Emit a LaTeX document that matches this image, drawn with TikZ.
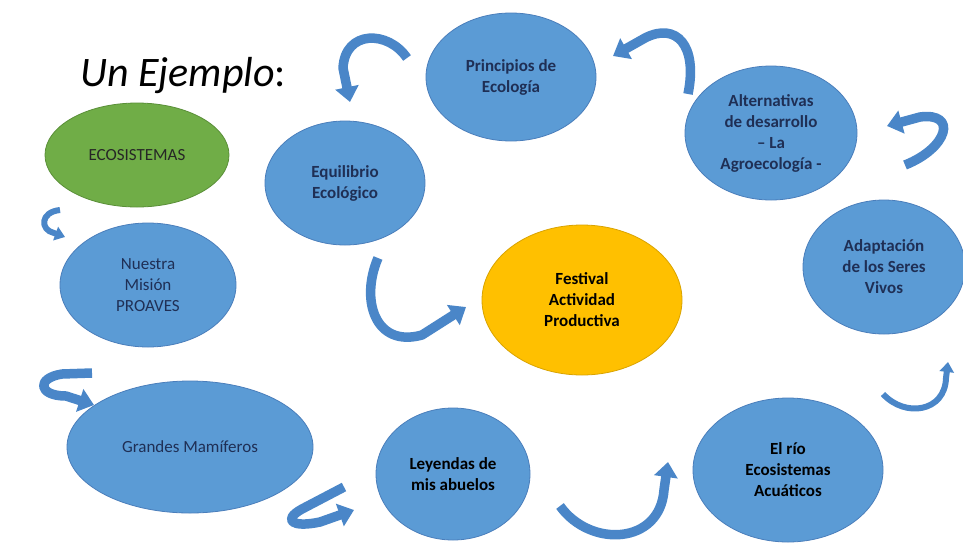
\documentclass[tikz,border=0pt]{standalone}
\usepackage{fontspec}
\setmainfont{Carlito}
\usetikzlibrary{shapes.geometric,arrows.meta}
\definecolor{ellblue}{HTML}{5B9BD5}
\definecolor{elledge}{HTML}{4A7EBB}
\definecolor{arrblue}{HTML}{4A86C8}
\definecolor{txtnavy}{HTML}{1F2F55}
\definecolor{ecogreen}{HTML}{70AD47}
\definecolor{ecoedge}{HTML}{5A8F38}
\definecolor{festyel}{HTML}{FFC000}
\definecolor{festedge}{HTML}{D9A300}
\begin{document}
\begin{tikzpicture}[x=1pt,y=-1pt,
  bub/.style={ellipse, fill=ellblue, draw=elledge, line width=0.8pt, inner sep=0pt,
    align=center, font=\fontsize{17}{21}\selectfont, text=txtnavy},
  bubb/.style={bub, font=\fontsize{17}{21}\selectfont\bfseries},
  flow/.style={draw=arrblue, line width=9.5pt, line join=round,
    -{Triangle[width=23pt,length=15pt]}},
  thinflow/.style={draw=arrblue, line width=6pt, line join=round,
    -{Triangle[width=14pt,length=10pt]}}]
\useasboundingbox (0,0) rectangle (963,552);
\fill[white] (0,0) rectangle (963,552);

% title
\node[anchor=west, inner sep=0pt] (title) at (80,76)
  {\fontsize{42}{48}\selectfont\itshape Un Ejemplo\upshape:};

% ellipses
\node[bub, fill=ecogreen, draw=ecoedge, text=black!85, minimum width=184pt, minimum height=104pt]
  (eco) at (137,155) {ECOSISTEMAS};
\node[bub, minimum width=176pt, minimum height=124pt] (mision) at (148,285)
  {Nuestra\\Misión\\PROAVES};
\node[bub, minimum width=246pt, minimum height=132pt] (mamif) at (190,447)
  {Grandes Mamíferos};
\node[bubb, minimum width=160pt, minimum height=124pt] (equil) at (345,183)
  {Equilibrio\\Ecológico};
\node[bubb, minimum width=170pt, minimum height=128pt] (princ) at (511,77)
  {Principios de\\Ecología};
\node[bubb, minimum width=172pt, minimum height=134pt] (alter) at (771,133)
  {Alternativas\\de desarrollo\\– La\\Agroecología -};
\node[bubb, minimum width=162pt, minimum height=134pt] (adapt) at (884,267)
  {Adaptación\\de los Seres\\Vivos};
\node[bubb, fill=festyel, draw=festedge, text=black, minimum width=200pt, minimum height=150pt]
  (fest) at (582,300) {Festival\\Actividad\\Productiva};
\node[bubb, text=black, minimum width=154pt, minimum height=132pt] (leyen) at (453,474)
  {Leyendas de\\mis abuelos};
\node[bubb, text=black, minimum width=190pt, minimum height=144pt] (rio) at (788,470)
  {El río\\Ecosistemas\\Acuáticos};

% curved block arrows (free-standing)
\coordinate (a1s) at (407,58);  \coordinate (a1e) at (350,102);
\draw[flow] (a1s) .. controls (388,30) and (345,30) .. (343,68) -- (a1e);

\coordinate (a2s) at (688,94);  \coordinate (a2e) at (613,56);
\draw[flow] (a2s) .. controls (698,45) and (676,22) .. (645,38) -- (a2e);

\coordinate (a3s) at (905,165); \coordinate (a3e) at (887,126);
\draw[flow] (a3s) .. controls (948,148) and (958,112) .. (920,117) -- (a3e);

\coordinate (a4s) at (883,394); \coordinate (a4e) at (948,362);
\draw[thinflow] (a4s) .. controls (905,418) and (945,412) .. (946,378) -- (a4e);

\coordinate (a5s) at (560,506); \coordinate (a5e) at (668,462);
\draw[flow] (a5s) .. controls (590,548) and (660,545) .. (664,490) -- (a5e);

\coordinate (a6s) at (344,487); \coordinate (a6e) at (354,510);
\draw[flow] (a6s) -- (302,509) .. controls (282,520) and (292,528) .. (320,522) -- (a6e);

\coordinate (a7s) at (92,373); \coordinate (a7e) at (94,405);
\draw[flow] (a7s) -- (62,374) .. controls (36,378) and (38,396) .. (66,396) -- (a7e);

\coordinate (a8s) at (60,210); \coordinate (a8e) at (65,237);
\draw[thinflow] (a8s) .. controls (40,212) and (40,230) .. (54,233) -- (a8e);

\coordinate (a9s) at (378,258); \coordinate (a9e) at (466,307);
\draw[flow] (a9s) .. controls (360,300) and (375,348) .. (422,335) -- (a9e);
\end{tikzpicture}
\end{document}
